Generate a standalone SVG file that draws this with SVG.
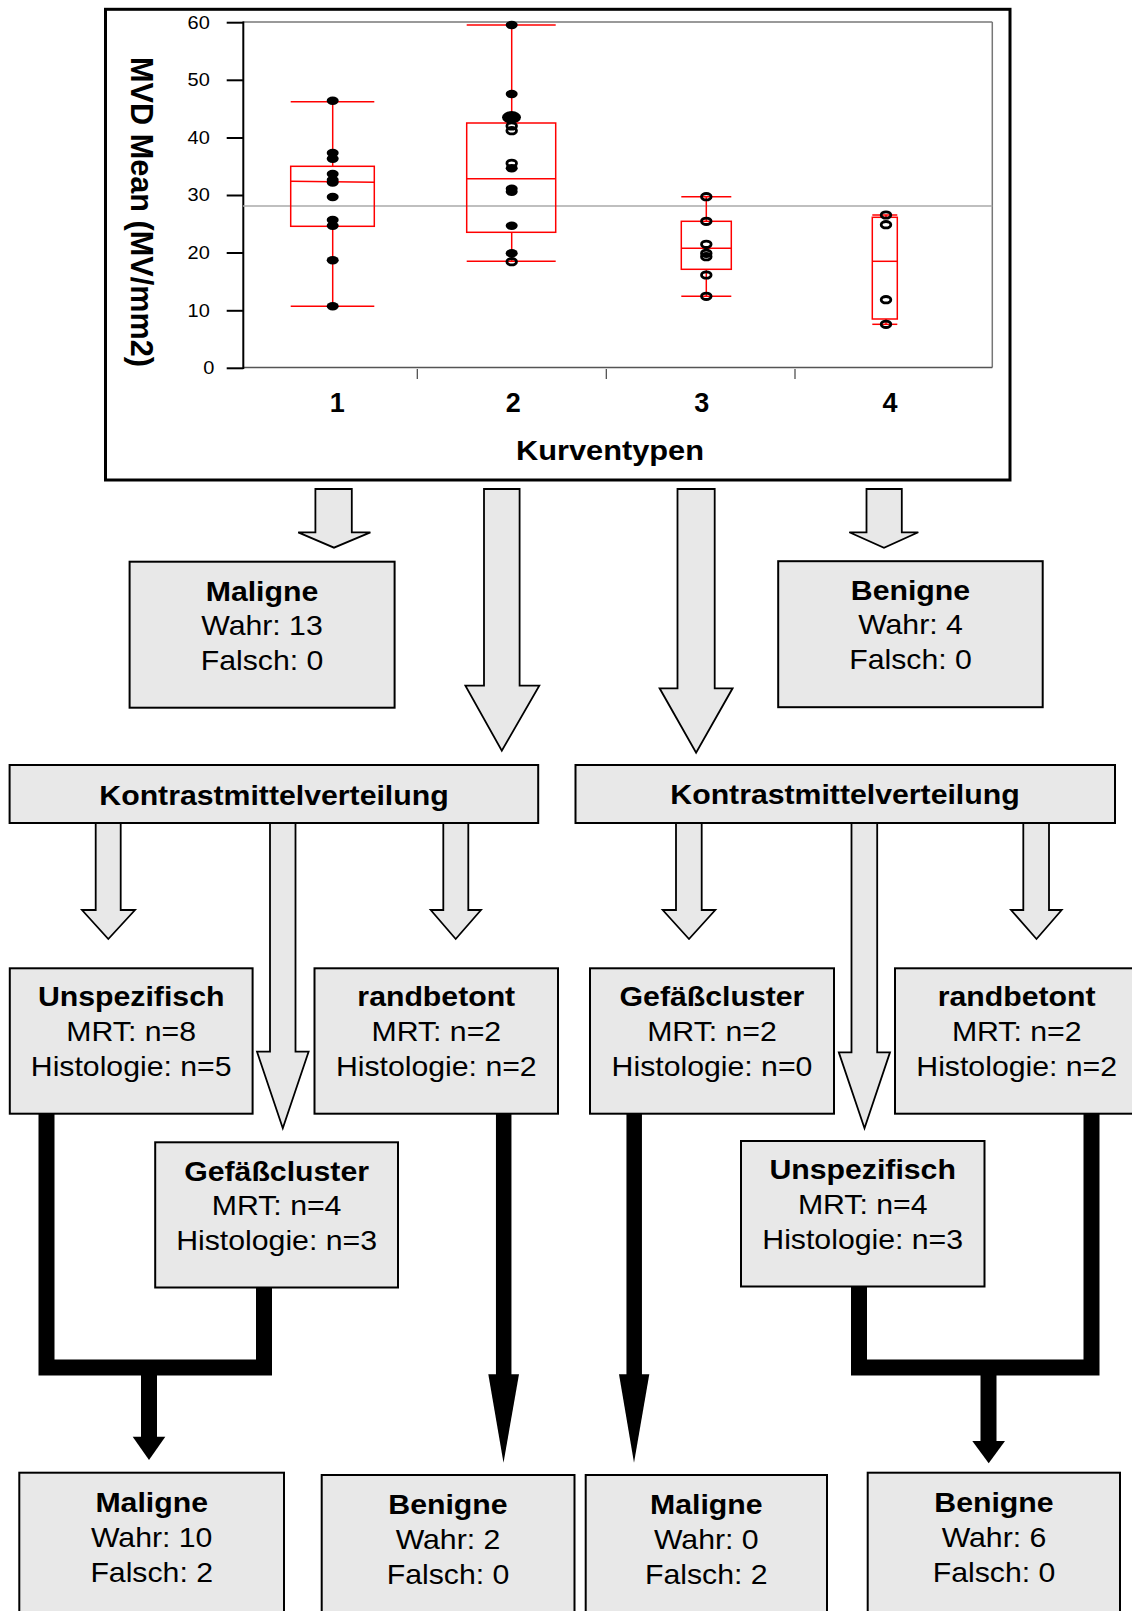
<svg xmlns="http://www.w3.org/2000/svg" width="1132" height="1611" viewBox="0 0 1132 1611">
<style>
text{font-family:"Liberation Sans",Arial,Helvetica,sans-serif;fill:#000}
.t{font-size:28px;text-anchor:middle;transform-box:fill-box;transform-origin:center;transform:scaleX(1.08)}
.b{font-weight:bold}
.tick{font-size:18.5px;text-anchor:end;transform-box:fill-box;transform-origin:center;transform:scaleX(1.08)}
.xl{font-size:27px;font-weight:bold;text-anchor:middle}
.box{fill:#e8e8e8;stroke:#000;stroke-width:2}
.blk{fill:#e8e8e8;stroke:#000;stroke-width:1.8;stroke-linejoin:miter}
.thick{fill:none;stroke:#000;stroke-width:16;stroke-linejoin:miter;stroke-linecap:butt}
.head{fill:#000;stroke:none}
.red{stroke:#ff0000;stroke-width:1.5;fill:none}
.pf{fill:#000}
.po{fill:none;stroke:#000;stroke-width:2.8}
.ax{stroke:#000;stroke-width:2}
</style>

<g id="chart">
  <rect x="105.5" y="9.3" width="904.5" height="470.7" fill="#fff" stroke="#000" stroke-width="3"/>
  <line x1="243" y1="22" x2="992.3" y2="22" stroke="#777" stroke-width="1.5"/>
  <line x1="992.3" y1="22" x2="992.3" y2="367.5" stroke="#777" stroke-width="1.5"/>
  <line x1="243" y1="367.5" x2="992.3" y2="367.5" stroke="#555" stroke-width="1.5"/>
  <line x1="243.3" y1="21.5" x2="243.3" y2="369" class="ax"/>
  <line x1="243" y1="206" x2="992.3" y2="206" stroke="#aaa" stroke-width="1.6"/>
  <g class="ax">
    <line x1="226.7" y1="22.7" x2="243.3" y2="22.7"/>
    <line x1="226.7" y1="80.3" x2="243.3" y2="80.3"/>
    <line x1="226.7" y1="138" x2="243.3" y2="138"/>
    <line x1="226.7" y1="195.5" x2="243.3" y2="195.5"/>
    <line x1="226.7" y1="253" x2="243.3" y2="253"/>
    <line x1="226.7" y1="310.8" x2="243.3" y2="310.8"/>
    <line x1="226.7" y1="368.3" x2="243.3" y2="368.3"/>
  </g>
  <g stroke="#444" stroke-width="1.2">
    <line x1="417.3" y1="369" x2="417.3" y2="379"/>
    <line x1="606.3" y1="369" x2="606.3" y2="379"/>
    <line x1="795" y1="369" x2="795" y2="379"/>
  </g>
  <text class="tick" x="209" y="28.7">60</text>
  <text class="tick" x="209" y="86.3">50</text>
  <text class="tick" x="209" y="144">40</text>
  <text class="tick" x="209" y="201.5">30</text>
  <text class="tick" x="209" y="259">20</text>
  <text class="tick" x="209" y="316.8">10</text>
  <text class="tick" x="214" y="374">0</text>
  <text x="131" y="212" transform="rotate(90 131 212)" text-anchor="middle" font-weight="bold" font-size="31" textLength="310" lengthAdjust="spacingAndGlyphs">MVD Mean (MV/mm2)</text>
  <text class="xl" x="337.3" y="412.3">1</text>
  <text class="xl" x="513.3" y="412.3">2</text>
  <text class="xl" x="701.7" y="412.3">3</text>
  <text class="xl" x="890" y="412.3">4</text>
  <text class="t b" x="610" y="460" style="font-size:28.5px">Kurventypen</text>

  <!-- group 1 -->
  <g class="red">
    <line x1="290.7" y1="101.7" x2="374.3" y2="101.7"/>
    <line x1="290.7" y1="306.3" x2="374.3" y2="306.3"/>
    <line x1="332.7" y1="101.7" x2="332.7" y2="166.3"/>
    <line x1="332.7" y1="226.3" x2="332.7" y2="306.3"/>
    <rect x="290.7" y="166.3" width="83.6" height="60"/>
    <line x1="290.7" y1="181.3" x2="374.3" y2="182.3"/>
  </g>
  <g class="pf">
    <ellipse cx="332.7" cy="100.7" rx="6" ry="4.2"/>
    <ellipse cx="332.7" cy="153" rx="6" ry="4.2"/>
    <ellipse cx="332.7" cy="158.7" rx="6" ry="4.2"/>
    <ellipse cx="332.7" cy="174" rx="6" ry="4.2"/>
    <ellipse cx="332.7" cy="180" rx="6" ry="4.2"/>
    <ellipse cx="332.7" cy="182.5" rx="6" ry="4.2"/>
    <ellipse cx="332.7" cy="197" rx="6" ry="4.2"/>
    <ellipse cx="332.7" cy="220" rx="6" ry="4.2"/>
    <ellipse cx="332.7" cy="225.7" rx="6" ry="4.2"/>
    <ellipse cx="332.7" cy="260.3" rx="6" ry="4.2"/>
    <ellipse cx="332.7" cy="306.3" rx="6" ry="4.2"/>
  </g>

  <!-- group 2 -->
  <g class="red">
    <line x1="466.7" y1="25" x2="555.7" y2="25"/>
    <line x1="466.7" y1="261.3" x2="555.7" y2="261.3"/>
    <line x1="511.7" y1="25" x2="511.7" y2="123"/>
    <line x1="511.7" y1="232.3" x2="511.7" y2="261.3"/>
    <rect x="466.7" y="123" width="89" height="109.3"/>
    <line x1="466.7" y1="178.7" x2="555.7" y2="178.7"/>
  </g>
  <g class="pf">
    <ellipse cx="511.7" cy="25" rx="6" ry="4.2"/>
    <ellipse cx="511.7" cy="94" rx="6" ry="4.2"/>
    <ellipse cx="511.5" cy="117.3" rx="9.5" ry="6.2"/>
    <ellipse cx="511.7" cy="168.3" rx="6" ry="4.2"/>
    <ellipse cx="511.7" cy="188.7" rx="6" ry="4.2"/>
    <ellipse cx="511.7" cy="191.7" rx="6" ry="4.2"/>
    <ellipse cx="511.7" cy="225.7" rx="6" ry="4.2"/>
    <ellipse cx="511.7" cy="253.3" rx="6" ry="4.2"/>
  </g>
  <g class="po">
    <ellipse cx="511.7" cy="126" rx="4.8" ry="3.2"/>
    <ellipse cx="511.7" cy="130.7" rx="4.8" ry="3.2"/>
    <ellipse cx="511.7" cy="163.3" rx="4.8" ry="3.2"/>
    <ellipse cx="511.7" cy="261.7" rx="4.8" ry="3.2"/>
  </g>

  <!-- group 3 -->
  <g class="red">
    <line x1="681.3" y1="196.7" x2="731.3" y2="196.7"/>
    <line x1="681.3" y1="296.3" x2="731.3" y2="296.3"/>
    <line x1="706.3" y1="196.7" x2="706.3" y2="221.3"/>
    <line x1="706.3" y1="269.3" x2="706.3" y2="296.3"/>
    <rect x="681.3" y="221.3" width="50" height="48"/>
    <line x1="681.3" y1="248.3" x2="731.3" y2="248.3"/>
  </g>
  <g class="po">
    <ellipse cx="706.3" cy="196.7" rx="4.8" ry="3.2"/>
    <ellipse cx="706.3" cy="221.3" rx="4.8" ry="3.2"/>
    <ellipse cx="706.3" cy="244.3" rx="4.8" ry="3.2"/>
    <ellipse cx="706.3" cy="253.3" rx="4.8" ry="3.2"/>
    <ellipse cx="706.3" cy="256.7" rx="4.8" ry="3.2"/>
    <ellipse cx="706.3" cy="275" rx="4.8" ry="3.2"/>
    <ellipse cx="706.3" cy="296.3" rx="4.8" ry="3.2"/>
  </g>

  <!-- group 4 -->
  <g class="red">
    <line x1="872.3" y1="215" x2="897.3" y2="215"/>
    <line x1="872.3" y1="324.3" x2="897.3" y2="324.3"/>
    <line x1="886" y1="215" x2="886" y2="217.3"/>
    <line x1="886" y1="319" x2="886" y2="324.3"/>
    <rect x="872.3" y="217.3" width="25" height="101.7"/>
    <line x1="872.3" y1="261.3" x2="897.3" y2="261.3"/>
  </g>
  <g class="po">
    <ellipse cx="886" cy="215" rx="4.8" ry="3.2"/>
    <ellipse cx="886" cy="224.7" rx="4.8" ry="3.2"/>
    <ellipse cx="886" cy="299.7" rx="4.8" ry="3.2"/>
    <ellipse cx="886" cy="324.3" rx="4.8" ry="3.2"/>
  </g>
</g>

<g id="connectors">
  <path class="blk" d="M315.4,489 H351.8 V532.3 H370.4 L334,547.7 L298.2,532.3 H315.4 Z"/>
  <path class="blk" d="M484,489 H519.6 V685.7 H539.3 L501.8,750.7 L465.4,685.7 H484 Z"/>
  <path class="blk" d="M677.5,489 H714.7 V688.3 H732.6 L696.1,752.7 L659.6,688.3 H677.5 Z"/>
  <path class="blk" d="M866.5,489 H901.8 V532.3 H918.3 L884,547.7 L849.3,532.3 H866.5 Z"/>

  <path class="blk" d="M95.7,823 H120.7 V910 H135 L108.3,939 L82,910 H95.7 Z"/>
  <path class="blk" d="M270,823 H295.5 V1051.7 H308.6 L282.8,1128.3 L257,1051.7 H270 Z"/>
  <path class="blk" d="M443.3,823 H468.3 V910 H481 L455.7,939 L430.7,910 H443.3 Z"/>
  <path class="blk" d="M676,823 H701.7 V910 H715.3 L689,939 L662.7,910 H676 Z"/>
  <path class="blk" d="M851.5,823 H877.2 V1052.3 H890 L864.5,1128.3 L838.8,1052.3 H851.5 Z"/>
  <path class="blk" d="M1023.3,823 H1049 V910 H1061.7 L1036.5,939 L1011,910 H1023.3 Z"/>

  <path class="thick" d="M46.5,1113 V1367.5 H264 V1287"/>
  <line class="thick" x1="149" y1="1375" x2="149" y2="1437.5"/>
  <polygon class="head" points="132.7,1436.7 165.3,1436.7 149,1460"/>

  <line class="thick" style="stroke-width:15.5" x1="503.7" y1="1113" x2="503.7" y2="1375"/>
  <polygon class="head" points="488.3,1374.3 519,1374.3 503.5,1462.7"/>

  <line class="thick" style="stroke-width:15.5" x1="634.2" y1="1113" x2="634.2" y2="1375"/>
  <polygon class="head" points="619,1374.3 649.3,1374.3 634,1462.7"/>

  <path class="thick" d="M859,1286 V1367.5 H1091.5 V1113"/>
  <line class="thick" x1="988.5" y1="1375" x2="988.5" y2="1441.8"/>
  <polygon class="head" points="972.3,1441 1005,1441 988.7,1463.3"/>
</g>

<g id="maligne-top">
  <rect class="box" x="129.6" y="561.7" width="265" height="146"/>
  <text class="t b" x="262" y="600.7">Maligne</text>
  <text class="t" x="262" y="635">Wahr: 13</text>
  <text class="t" x="262" y="670">Falsch: 0</text>
</g>
<g id="benigne-top">
  <rect class="box" x="778.2" y="561.2" width="264.5" height="146"/>
  <text class="t b" x="910.5" y="600.2">Benigne</text>
  <text class="t" x="910.5" y="634.5">Wahr: 4</text>
  <text class="t" x="910.5" y="669.5">Falsch: 0</text>
</g>
<g id="kontrast-left">
  <rect class="box" x="9.6" y="765" width="528.6" height="58"/>
  <text class="t b" x="274" y="805">Kontrastmittelverteilung</text>
</g>
<g id="kontrast-right">
  <rect class="box" x="575.5" y="765" width="539.5" height="58"/>
  <text class="t b" x="845" y="804">Kontrastmittelverteilung</text>
</g>
<g id="unspezifisch-left">
  <rect class="box" x="9.8" y="968.3" width="242.8" height="145.4"/>
  <text class="t b" x="131.2" y="1006">Unspezifisch</text>
  <text class="t" x="131.2" y="1041.5">MRT: n=8</text>
  <text class="t" x="131.2" y="1076.5">Histologie: n=5</text>
</g>
<g id="randbetont-left">
  <rect class="box" x="314.5" y="968.3" width="243.5" height="145.4"/>
  <text class="t b" x="436.3" y="1006">randbetont</text>
  <text class="t" x="436.3" y="1041.5">MRT: n=2</text>
  <text class="t" x="436.3" y="1076.5">Histologie: n=2</text>
</g>
<g id="gefaesscluster-left">
  <rect class="box" x="155.2" y="1142.3" width="242.8" height="145.2"/>
  <text class="t b" x="276.6" y="1180.7">Gefäßcluster</text>
  <text class="t" x="276.6" y="1215.5">MRT: n=4</text>
  <text class="t" x="276.6" y="1250">Histologie: n=3</text>
</g>
<g id="gefaesscluster-right">
  <rect class="box" x="590" y="968.3" width="244" height="145.4"/>
  <text class="t b" x="712" y="1006">Gefäßcluster</text>
  <text class="t" x="712" y="1041.5">MRT: n=2</text>
  <text class="t" x="712" y="1076.5">Histologie: n=0</text>
</g>
<g id="randbetont-right">
  <rect class="box" x="895" y="968.3" width="244" height="145.4"/>
  <text class="t b" x="1016.7" y="1006">randbetont</text>
  <text class="t" x="1016.7" y="1041.5">MRT: n=2</text>
  <text class="t" x="1016.7" y="1076.5">Histologie: n=2</text>
</g>
<g id="unspezifisch-right">
  <rect class="box" x="741" y="1141" width="243.5" height="145.5"/>
  <text class="t b" x="862.7" y="1179.3">Unspezifisch</text>
  <text class="t" x="862.7" y="1214">MRT: n=4</text>
  <text class="t" x="862.7" y="1249">Histologie: n=3</text>
</g>
<g id="maligne-bottom-left">
  <rect class="box" x="19.3" y="1472.7" width="264.7" height="160"/>
  <text class="t b" x="151.7" y="1512.3">Maligne</text>
  <text class="t" x="151.7" y="1547.2">Wahr: 10</text>
  <text class="t" x="151.7" y="1582.2">Falsch: 2</text>
</g>
<g id="benigne-bottom-left">
  <rect class="box" x="321.7" y="1475" width="252.8" height="160"/>
  <text class="t b" x="448" y="1514">Benigne</text>
  <text class="t" x="448" y="1549">Wahr: 2</text>
  <text class="t" x="448" y="1584">Falsch: 0</text>
</g>
<g id="maligne-bottom-right">
  <rect class="box" x="585.7" y="1475" width="241.3" height="160"/>
  <text class="t b" x="706.3" y="1514">Maligne</text>
  <text class="t" x="706.3" y="1549">Wahr: 0</text>
  <text class="t" x="706.3" y="1584">Falsch: 2</text>
</g>
<g id="benigne-bottom-right">
  <rect class="box" x="867.7" y="1472.7" width="252.3" height="160"/>
  <text class="t b" x="994" y="1512.3">Benigne</text>
  <text class="t" x="994" y="1547.2">Wahr: 6</text>
  <text class="t" x="994" y="1582.2">Falsch: 0</text>
</g>
</svg>
